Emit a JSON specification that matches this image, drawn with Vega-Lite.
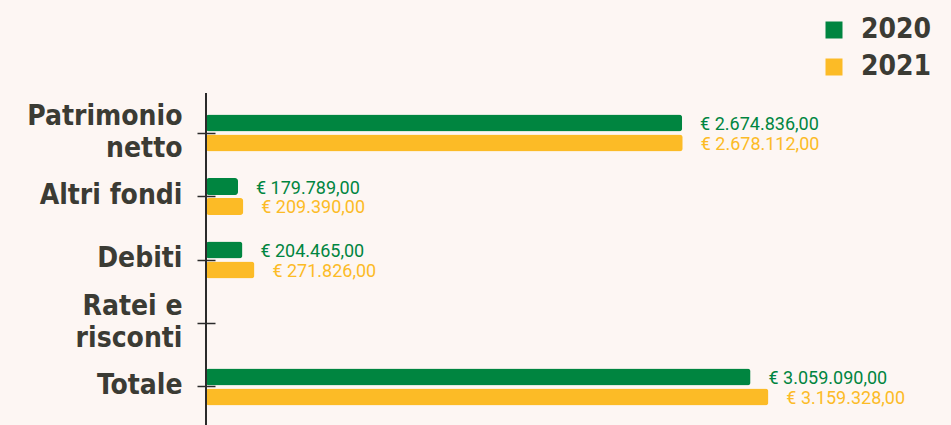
{
  "$schema": "https://vega.github.io/schema/vega-lite/v6.json",
  "width": 712,
  "height": 334,
  "autosize": {"type": "none"},
  "padding": {"left": 206, "top": 93, "right": 33, "bottom": 0},
  "background": "#fdf6f3",
  "config": {
    "view": {"stroke": null},
    "locale": {"number": {"decimal": ",", "thousands": ".", "grouping": [3], "currency": ["€ ", ""]}}
  },
  "data": {
    "values": [
      {"voce": "Patrimonio netto", "anno": "2020", "valore": 2674836},
      {"voce": "Patrimonio netto", "anno": "2021", "valore": 2678112},
      {"voce": "Altri fondi", "anno": "2020", "valore": 179789},
      {"voce": "Altri fondi", "anno": "2021", "valore": 209390},
      {"voce": "Debiti", "anno": "2020", "valore": 204465},
      {"voce": "Debiti", "anno": "2021", "valore": 271826},
      {"voce": "Ratei e risconti", "anno": "2020", "valore": null},
      {"voce": "Ratei e risconti", "anno": "2021", "valore": null},
      {"voce": "Totale", "anno": "2020", "valore": 3059090},
      {"voce": "Totale", "anno": "2021", "valore": 3159328}
    ]
  },
  "encoding": {
    "y": {
      "field": "voce",
      "type": "nominal",
      "scale": {
        "domain": ["Patrimonio netto", "Altri fondi", "Debiti", "Ratei e risconti", "Totale"],
        "paddingInner": 0.42,
        "paddingOuter": 0.34
      },
      "axis": {
        "title": null,
        "domain": false,
        "offset": -9,
        "tickSize": 18,
        "tickWidth": 1.5,
        "tickColor": "#2b2b2b",
        "labelPadding": 15,
        "labelFont": "DejaVu Sans Condensed",
        "labelFontWeight": "bold",
        "labelFontSize": 28,
        "labelColor": "#3b3b34",
        "labelLineHeight": 32,
        "labelOffset": {
          "condition": {"test": "datum.value == 'Patrimonio netto' || datum.value == 'Ratei e risconti'", "value": -16},
          "value": -1
        },
        "labelExpr": "datum.value == 'Patrimonio netto' ? ['Patrimonio', 'netto'] : datum.value == 'Ratei e risconti' ? ['Ratei e', 'risconti'] : datum.value"
      }
    },
    "yOffset": {
      "field": "anno",
      "type": "nominal",
      "scale": {"paddingInner": 0.15}
    },
    "x": {
      "field": "valore",
      "type": "quantitative",
      "scale": {"domain": [0, 4000000], "nice": false},
      "axis": null
    },
    "color": {
      "field": "anno",
      "type": "nominal",
      "scale": {"domain": ["2020", "2021"], "range": ["#008540", "#fcbb26"]},
      "legend": {
        "title": null,
        "orient": "none",
        "legendX": 614,
        "legendY": -77,
        "symbolType": "square",
        "symbolSize": 289,
        "symbolStrokeWidth": 0,
        "labelFont": "DejaVu Sans Condensed",
        "labelFontWeight": "bold",
        "labelFontSize": 28,
        "labelColor": "#3b3b34",
        "labelOffset": 13,
        "rowPadding": 9
      }
    }
  },
  "layer": [
    {
      "mark": {"type": "bar", "cornerRadius": 3}
    },
    {
      "mark": {"type": "text", "align": "left", "baseline": "middle", "dx": 18, "dy": 2, "font": "Roboto", "fontSize": 18},
      "encoding": {
        "text": {"field": "valore", "type": "quantitative", "format": "$,.2f"}
      }
    },
    {
      "mark": {"type": "rule", "color": "#2b2b2b", "strokeWidth": 1.5},
      "encoding": {
        "x": {"datum": 0},
        "y": null,
        "yOffset": null,
        "color": null
      }
    }
  ]
}
